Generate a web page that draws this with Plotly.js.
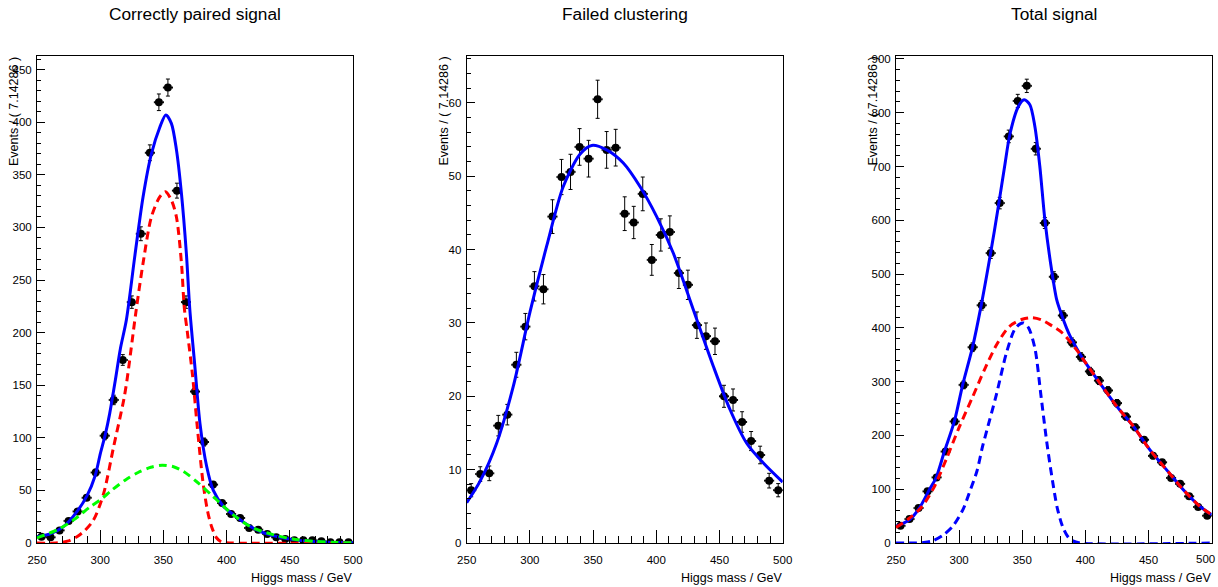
<!DOCTYPE html>
<html>
<head>
<meta charset="utf-8">
<script src="https://cdn.plot.ly/plotly-3.0.1.min.js"></script>
<style>html,body{margin:0;padding:0;background:#fff;}#chart{width:1218px;height:587px;}</style>
</head>
<body>
<div id="chart"></div>
<script>
// ---------- data ----------
const binCenters = [253.57, 260.71, 267.86, 275, 282.14, 289.29, 296.43, 303.57, 310.71, 317.86, 325, 332.14, 339.29, 346.43, 353.57, 360.71, 367.86, 375, 382.14, 389.29, 396.43, 403.57, 410.71, 417.86, 425, 432.14, 439.29, 446.43, 453.57, 460.71, 467.86, 475, 482.14, 489.29, 496.43];
const binHalfWidth = 3.5714;

const xTickVals = [250, 300, 350, 400, 450, 500];
const xTickLabels = ["250", "300", "350", "400", "450", "500"];

const panelTitles = ["Correctly paired signal", "Failed clustering", "Total signal"];
const yTitle = "Events / ( 7.14286 )";
const xTitle = "Higgs mass / GeV";

// Panel 1: correctly paired signal
const p1Values = [6, 5.4, 12, 21, 30, 43, 67, 102, 136, 174, 229, 294, 371, 419, 433, 335, 229, 144, 96, 55.5, 38, 27.6, 23.8, 14.3, 12.7, 8.6, 5.4, 3.8, 2.5, 2.5, 2.5, 1.6, 0.6, 0.6, 0.6];
const p1Errors = [0.9, 0.9, 1.3, 1.8, 2.1, 2.5, 3.2, 3.9, 4.5, 5.1, 5.9, 6.6, 7.5, 7.9, 8.1, 7.1, 5.9, 4.6, 3.8, 2.9, 2.4, 2.0, 1.9, 1.5, 1.4, 1.1, 0.9, 0.8, 0.6, 0.6, 0.6, 0.5, 0.3, 0.3, 0.3];
const p1TotalX = [250, 260.5, 271, 281.6, 289.6, 296, 300.1, 304, 307.5, 312, 316, 320.7, 327.3, 333.9, 340.5, 347.1, 351.9, 356.3, 360.3, 364.3, 368.2, 370.9, 374.9, 378.9, 384.2, 389.5, 397.4, 405.3, 418.5, 431.7, 452.8, 475, 500];
const p1TotalY = [6, 8.6, 15.5, 29.8, 45, 64, 85, 103, 123, 155, 185, 212, 272, 329, 370, 395, 407, 399, 374, 332, 275, 222, 168, 114, 73, 50, 35, 27, 15.9, 8.6, 3.2, 1, 0.3];
const p1SigX = [250, 265, 275, 281.6, 288, 294.8, 302.7, 310.7, 318.6, 321.2, 328.3, 333.9, 340.5, 347.1, 351.6, 356.3, 360.3, 364.3, 366.5, 369, 373, 376.6, 381.4, 385, 388, 392, 396, 405, 500];
const p1SigY = [0, 0, 2, 6, 12, 22, 47, 92, 136, 155, 220, 266, 310, 329, 334, 326, 310, 266, 224, 200, 160, 113, 57, 30, 16, 5, 1, 0, 0];
const p1BkgX = [250, 265.8, 279, 292.2, 300, 310, 320, 330, 340, 349, 358, 366, 376.6, 389.2, 405, 420.8, 436.6, 452.5, 470, 484, 500];
const p1BkgY = [5, 12.4, 22, 34.5, 41, 51, 60, 67, 72, 74, 72.5, 68, 58, 44.4, 27, 14.3, 8, 3.8, 1.5, 0.6, 0.2];

// Panel 2: failed clustering
const p2Values = [7.2, 9.4, 9.5, 16.0, 17.5, 24.3, 29.5, 35.0, 34.6, 44.5, 49.9, 50.6, 54.0, 52.4, 60.5, 53.6, 53.9, 44.9, 43.7, 47.6, 38.6, 42.0, 42.4, 36.8, 35.2, 29.7, 28.2, 27.5, 20.0, 19.5, 16.5, 13.9, 12.0, 8.5, 7.2];
const p2Errors = [0.9, 1.0, 1.0, 1.4, 1.4, 1.7, 1.8, 2.0, 2.0, 2.3, 2.4, 2.4, 2.5, 2.5, 2.6, 2.5, 2.5, 2.3, 2.2, 2.3, 2.1, 2.2, 2.2, 2.1, 2.0, 1.8, 1.8, 1.8, 1.5, 1.5, 1.4, 1.3, 1.2, 1.0, 0.9];
const p2FitX = [250, 260.5, 273.7, 286.9, 300.1, 313.3, 326.4, 339.6, 348.9, 360.7, 373.9, 387.1, 400.3, 413.5, 429.3, 445.1, 458.3, 471.5, 484.7, 500];
const p2FitY = [5.5, 8.4, 13.6, 21.4, 31.5, 40.5, 48.6, 53, 54.2, 53.6, 51.8, 48.6, 44.5, 39.5, 31.8, 24.1, 18.2, 13.6, 10.9, 8.3];

// Panel 3: total signal
const p3Values = [32, 44.5, 65, 96, 122, 170, 226, 294, 364, 442, 539, 632, 756, 822, 850, 733, 595, 495, 423, 373, 346, 319, 302, 283.6, 260, 235, 215, 192, 162, 150, 121, 110, 86.7, 67, 50.7];
const p3Errors = [2.4, 2.8, 3.4, 4.2, 4.7, 5.5, 6.4, 7.3, 8.1, 8.9, 9.9, 10.7, 11.7, 12.2, 12.4, 11.5, 10.3, 9.4, 8.7, 8.2, 7.9, 7.6, 7.4, 7.1, 6.8, 6.5, 6.2, 5.9, 5.4, 5.2, 4.7, 4.4, 4.0, 3.5, 3.0];
const p3TotalX = [250, 260.6, 268.5, 276.4, 281.7, 288.3, 296.2, 302.8, 310.7, 317.3, 325, 331, 336, 340.2, 346.8, 351.5, 356, 360, 363.9, 367.9, 373.2, 377.3, 381.2, 385, 387.8, 393, 398.4, 411.6, 424.8, 438, 451.1, 464.3, 477.5, 490.7, 500];
const p3TotalY = [31, 43, 65, 99, 121, 170, 226, 294, 365, 440, 540, 625, 700, 760, 811, 824, 815, 774, 700, 601, 508, 452, 424, 400, 385, 362, 341, 297, 254, 217, 173, 136, 99, 68, 52.6];
const p3BroadX = [250, 260, 270, 280, 290, 300, 310, 320, 330, 340, 350, 358, 365, 372, 382, 393, 398.4, 411.6, 424.8, 438, 451.1, 464.3, 477.5, 490.7, 500];
const p3BroadY = [29, 45, 66, 103, 157, 215, 268, 322, 370, 403, 416, 419, 415, 406, 390, 359, 341, 297, 254, 217, 173, 136, 99, 68, 52.6];
const p3NarrowX = [250, 265, 272, 279, 287, 294.9, 303, 308, 314, 318.6, 322, 329.5, 337.4, 343.7, 348, 351, 355, 360, 365, 370, 375.5, 378, 382, 386, 390, 396, 500];
const p3NarrowY = [0, 0, 1, 4, 14, 31, 62, 93, 133, 180, 210, 276, 353, 396, 407, 409, 400, 362, 270, 177, 93, 62, 30, 12, 4, 0, 0];

// ---------- geometry ----------
const W = 1218, H = 587;
const fx = v => v / W;
const fy = v => 1 - v / H;
const panelsPx = [[37, 353], [466.7, 782.7], [896, 1211.7]];
const yRanges = [[0, 463], [0, 66.4], [0, 905.5]];
const yDticks = [50, 10, 100];
const yMinor = [10, 2, 20];
const yTitleCenters = [14.5, 444, 873];

const FONT = 'Liberation Sans, Arial, Helvetica, sans-serif';
const dashPat = '8px,5px';

function dataTrace(vals, errs, ax) {
  return {
    type: 'scatter', mode: 'markers',
    x: binCenters, y: vals,
    xaxis: 'x' + ax, yaxis: 'y' + ax,
    marker: {color: 'black', size: 8, symbol: 'circle'},
    error_x: {type: 'constant', value: binHalfWidth, color: 'black', thickness: 1, width: 1},
    error_y: {type: 'data', array: errs, color: 'black', thickness: 1, width: 2},
    showlegend: false, hoverinfo: 'skip'
  };
}
function lineTrace(xs, ys, ax, color, dash) {
  return {
    type: 'scatter', mode: 'lines', x: xs, y: ys,
    xaxis: 'x' + ax, yaxis: 'y' + ax,
    line: {color: color, width: 3, dash: dash || 'solid', shape: 'spline', smoothing: 0.8},
    showlegend: false, hoverinfo: 'skip'
  };
}

const traces = [
  dataTrace(p1Values, p1Errors, ''),
  lineTrace(p1TotalX, p1TotalY, '', '#0000ff'),
  lineTrace(p1SigX, p1SigY, '', '#ff0000', dashPat),
  lineTrace(p1BkgX, p1BkgY, '', '#00ff00', dashPat),
  dataTrace(p2Values, p2Errors, '2'),
  lineTrace(p2FitX, p2FitY, '2', '#0000ff'),
  dataTrace(p3Values, p3Errors, '3'),
  lineTrace(p3TotalX, p3TotalY, '3', '#0000ff'),
  lineTrace(p3BroadX, p3BroadY, '3', '#ff0000', dashPat),
  lineTrace(p3NarrowX, p3NarrowY, '3', '#0000ff', dashPat)
];

const layout = {
  width: W, height: H,
  margin: {l: 0, r: 0, t: 0, b: 0, pad: 0},
  paper_bgcolor: 'white', plot_bgcolor: 'white',
  font: {family: FONT, color: 'black'},
  showlegend: false,
  annotations: []
};

for (let i = 0; i < 3; i++) {
  const s = i === 0 ? '' : String(i + 1);
  // last panel: the final label sits at the page edge, so it is drawn as an annotation shifted inside
  const labels = xTickLabels.map((t, k) => (i === 2 && k === xTickLabels.length - 1) ? '' : t);
  layout['xaxis' + s] = {
    domain: [fx(panelsPx[i][0]), fx(panelsPx[i][1])],
    anchor: 'y' + s,
    range: [250, 500],
    tickmode: 'array', tickvals: xTickVals, ticktext: labels,
    showline: true, mirror: true, linecolor: 'black', linewidth: 1,
    ticks: 'inside', ticklen: 13, tickwidth: 1, tickcolor: 'black',
    minor: {dtick: 10, tick0: 250, ticks: 'inside', ticklen: 7, tickwidth: 1, tickcolor: 'black', showgrid: false},
    showgrid: false, zeroline: false,
    tickfont: {family: FONT, size: 11.5, color: 'black'},
    ticklabelstandoff: 6,
    fixedrange: true
  };
  layout['yaxis' + s] = {
    domain: [fy(543), fy(56)],
    anchor: 'x' + s,
    range: yRanges[i], tick0: 0, dtick: yDticks[i],
    showline: true, mirror: true, linecolor: 'black', linewidth: 1,
    ticks: 'inside', ticklen: 8, tickwidth: 1, tickcolor: 'black',
    minor: {dtick: yMinor[i], tick0: 0, ticks: 'inside', ticklen: 4, tickwidth: 1, tickcolor: 'black', showgrid: false},
    showgrid: false, zeroline: false,
    tickfont: {family: FONT, size: 11.5, color: 'black'},
    ticklabelstandoff: 2,
    ticklabeloverflow: 'allow',
    fixedrange: true
  };
  layout.annotations.push({
    text: panelTitles[i], xref: 'paper', yref: 'paper',
    x: fx((panelsPx[i][0] + panelsPx[i][1]) / 2), y: fy(14), xanchor: 'center', yanchor: 'middle',
    showarrow: false, font: {family: FONT, size: 17.3, color: 'black'}
  });
  layout.annotations.push({
    text: yTitle, xref: 'paper', yref: 'paper', textangle: -90,
    x: fx(yTitleCenters[i]), y: fy(55), xanchor: 'center', yanchor: 'top',
    showarrow: false, font: {family: FONT, size: 12.5, color: 'black'}
  });
  layout.annotations.push({
    text: xTitle, xref: 'paper', yref: 'paper',
    x: fx(panelsPx[i][1] + 1), y: fy(578), xanchor: 'right', yanchor: 'middle',
    showarrow: false, font: {family: FONT, size: 12.5, color: 'black'}
  });
}
layout.annotations.push({
  text: xTickLabels[xTickLabels.length - 1], xref: 'paper', yref: 'paper',
  x: fx(1217), y: fy(559), xanchor: 'right', yanchor: 'middle',
  showarrow: false, font: {family: FONT, size: 11.5, color: 'black'}
});

Plotly.newPlot('chart', traces, layout, {staticPlot: true, displayModeBar: false});
</script>
</body>
</html>
